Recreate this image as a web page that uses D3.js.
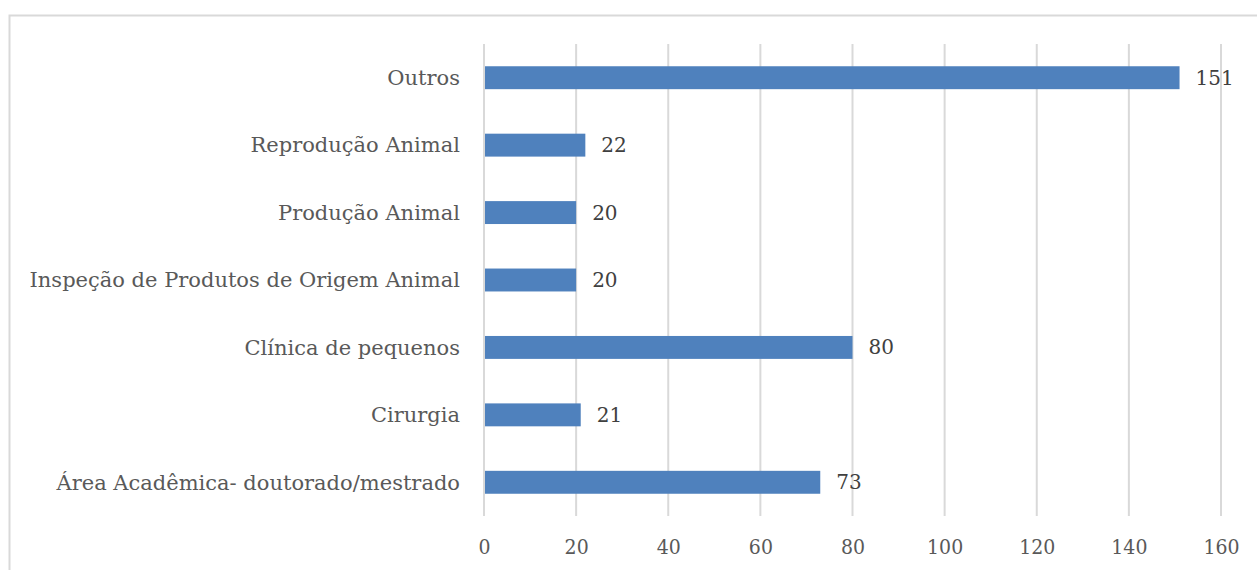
<!DOCTYPE html>
<html>
<head>
<meta charset="utf-8">
<script src="https://cdn.jsdelivr.net/npm/d3@7"></script>
<style>
  body { margin: 0; background: #fff; }
  text { font-family: "DejaVu Serif", "Liberation Serif", serif; }
</style>
</head>
<body>
<script>
// Data
const categories = ["Outros", "Reprodução Animal", "Produção Animal", "Inspeção de Produtos de Origem Animal", "Clínica de pequenos", "Cirurgia", "Área Acadêmica- doutorado/mestrado"];
const values = [151, 22, 20, 20, 80, 21, 73];
const tickValues = [0, 20, 40, 60, 80, 100, 120, 140, 160];

const W = 1257, H = 570;
const plot = { left: 484, right: 1221, top: 44, bottom: 516 };

const svg = d3.select("body").append("svg")
    .attr("width", W)
    .attr("height", H);

// outer chart border
svg.append("rect")
    .attr("x", 9.5).attr("y", 15.5)
    .attr("width", W + 20).attr("height", H + 20)
    .attr("fill", "none")
    .attr("stroke", "#d9d9d9")
    .attr("stroke-width", 2);

const x = d3.scaleLinear().domain([0, 160]).range([plot.left, plot.right]);
const y = d3.scaleBand().domain(categories).range([plot.top, plot.bottom]).paddingInner(0.66).paddingOuter(0.33);

// gridlines
svg.append("g")
    .selectAll("line")
    .data(tickValues)
    .enter().append("line")
    .attr("x1", d => x(d)).attr("x2", d => x(d))
    .attr("y1", plot.top).attr("y2", plot.bottom)
    .attr("stroke", "#d9d9d9")
    .attr("stroke-width", 2);

// bars
svg.append("g")
    .selectAll("rect")
    .data(values)
    .enter().append("rect")
    .attr("x", x(0) + 1)
    .attr("y", (d, i) => y(categories[i]))
    .attr("width", d => x(d) - x(0) - 1)
    .attr("height", y.bandwidth())
    .attr("fill", "#4f81bd");

// value labels
svg.append("g")
    .selectAll("text")
    .data(values)
    .enter().append("text")
    .attr("x", d => x(d) + 16)
    .attr("y", (d, i) => y(categories[i]) + y.bandwidth() / 2)
    .attr("dy", "0.35em")
    .style("font-size", "20px")
    .style("fill", "#404040")
    .text(d => d);

// category labels
svg.append("g")
    .selectAll("text")
    .data(categories)
    .enter().append("text")
    .attr("x", plot.left - 24)
    .attr("y", d => y(d) + y.bandwidth() / 2)
    .attr("dy", "0.35em")
    .attr("text-anchor", "end")
    .style("font-size", "21px")
    .style("fill", "#595959")
    .text(d => d);

// x axis labels
const xAxis = svg.append("g")
    .attr("transform", `translate(0,${plot.bottom})`)
    .call(d3.axisBottom(x).tickValues(tickValues).tickSize(0).tickPadding(23));
xAxis.select(".domain").remove();
xAxis.attr("font-family", null).attr("font-size", null);
xAxis.selectAll("text")
    .style("font-family", "'DejaVu Serif Condensed', 'DejaVu Serif', serif")
    .style("font-size", "21px")
    .style("fill", "#595959");
</script>
</body>
</html>
